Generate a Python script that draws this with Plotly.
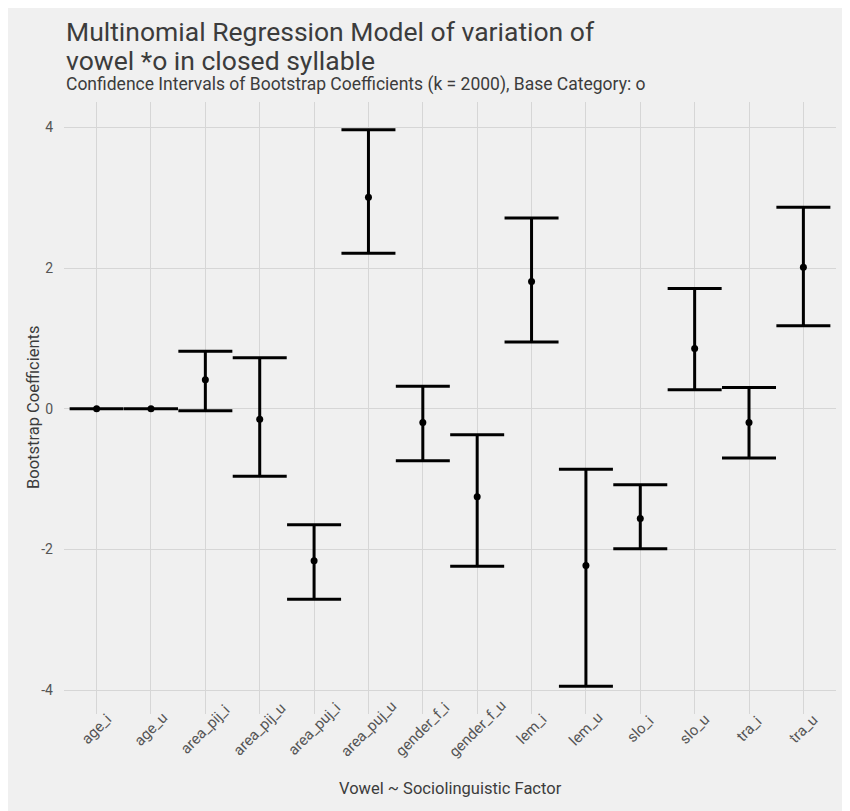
import plotly.graph_objects as go

categories = ["age_i", "age_u", "area_pij_i", "area_pij_u", "area_puj_i", "area_puj_u",
              "gender_f_i", "gender_f_u", "lem_i", "lem_u", "slo_i", "slo_u", "tra_i", "tra_u"]
estimate = [0.0, 0.0, 0.41, -0.15, -2.16, 3.005, -0.195, -1.25, 1.81, -2.23, -1.56, 0.855, -0.195, 2.01]
upper = [0.0, 0.0, 0.815, 0.725, -1.65, 3.965, 0.32, -0.37, 2.71, -0.86, -1.08, 1.71, 0.30, 2.865]
lower = [0.0, 0.0, -0.03, -0.96, -2.71, 2.21, -0.74, -2.24, 0.95, -3.945, -1.99, 0.27, -0.70, 1.18]

title_line1 = "Multinomial Regression Model of variation of"
title_line2 = "vowel *o in closed syllable"
subtitle = "Confidence Intervals of Bootstrap Coefficients (k = 2000), Base Category: o"
x_title = "Vowel ~ Sociolinguistic Factor"
y_title = "Bootstrap Coefficients"

FONT = "Roboto, Inter, DejaVu Sans"
BG = "#F0F0F0"
GRID = "#D6D6D6"
TXT = "#3C3C3C"
TICK = "#555555"

err_plus = [u - e for u, e in zip(upper, estimate)]
err_minus = [e - l for e, l in zip(estimate, lower)]

fig = go.Figure()
fig.add_trace(go.Scatter(
    x=categories, y=estimate, mode="markers",
    marker=dict(color="black", size=7),
    error_y=dict(type="data", symmetric=False, array=err_plus, arrayminus=err_minus,
                 color="black", thickness=3, width=27),
    showlegend=False, hoverinfo="skip",
))

W, H = 850, 811
O = 8  # page offset of the figure inside the browser window
# target panel edges in window pixels
P_L, P_R, P_T, P_B = 64, 836, 102, 714
ml, mr, mt, mb = P_L - O, W - (P_R - O), P_T - O, H - (P_B - O)
pw = W - ml - mr
ph = H - mt - mb

def py(p):
    return (P_B - p) / ph

def px(p):
    return (p - P_L) / pw

annotations = [
    dict(text=title_line1, xref="paper", yref="paper", x=0, y=py(43), xanchor="left",
         yanchor="bottom", showarrow=False, font=dict(size=26.5, color=TXT), yshift=-6),
    dict(text=title_line2, xref="paper", yref="paper", x=0, y=py(72), xanchor="left",
         yanchor="bottom", showarrow=False, font=dict(size=26.5, color=TXT), yshift=-6),
    dict(text=subtitle, xref="paper", yref="paper", x=0, y=py(93), xanchor="left",
         yanchor="bottom", showarrow=False, font=dict(size=17.5, color=TXT), yshift=-4),
    dict(text=x_title, xref="paper", yref="paper", x=px(450), y=py(788), xanchor="center",
         yanchor="middle", showarrow=False, font=dict(size=16.5, color=TXT)),
    dict(text=y_title, xref="paper", yref="paper", x=px(33), y=py(408), xanchor="center",
         yanchor="middle", showarrow=False, textangle=-90, font=dict(size=16.5, color=TXT)),
]
# rotated category labels, centred under each category (as ggplot does)
for c in categories:
    annotations.append(dict(text=c, xref="x", yref="paper", x=c, y=py(729),
                            xanchor="center", yanchor="middle", showarrow=False,
                            textangle=-45, font=dict(size=15, color=TICK)))

fig.update_layout(
    width=W, height=H,
    margin=dict(l=ml, r=mr, t=mt, b=mb, autoexpand=False),
    paper_bgcolor=BG, plot_bgcolor=BG,
    font=dict(family=FONT, color=TXT),
    xaxis=dict(
        type="category", range=[-0.6, 13.6], automargin=False,
        showgrid=True, gridcolor=GRID, gridwidth=1.2,
        zeroline=False, showline=False, ticks="", showticklabels=False,
    ),
    yaxis=dict(
        range=[-4.34, 4.36], tickvals=[-4, -2, 0, 2, 4], ticktext=["-4", "-2", "0", "2", "4"],
        automargin=False,
        showgrid=True, gridcolor=GRID, gridwidth=1.2,
        zeroline=False, showline=False, ticks="",
        ticklabelstandoff=10,
        tickfont=dict(size=14, color=TICK),
    ),
    annotations=annotations,
)

fig.write_html("out.html")
